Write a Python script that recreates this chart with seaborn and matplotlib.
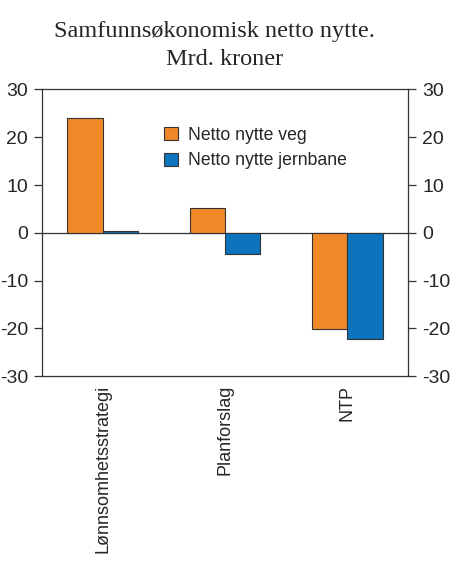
import matplotlib
matplotlib.use("Agg")
import matplotlib.pyplot as plt
import seaborn as sns
import pandas as pd

categories = ["Lønnsomhetsstrategi", "Planforslag", "NTP"]
veg = [24.1, 5.2, -20.1]
jernbane = [0.4, -4.5, -22.3]
series_names = ["Netto nytte veg", "Netto nytte jernbane"]
colors = ["#F0882A", "#0B74BC"]
yticks = [-30, -20, -10, 0, 10, 20, 30]
title_lines = ["Samfunnsøkonomisk netto nytte.", "Mrd. kroner"]

df = pd.DataFrame({
    "kategori": categories * 2,
    "verdi": veg + jernbane,
    "serie": [series_names[0]] * 3 + [series_names[1]] * 3,
})

sns.set_style("white")
plt.rcParams["font.family"] = ["Liberation Sans", "DejaVu Sans"]

fig = plt.figure(figsize=(4.5, 5.7), dpi=100)
ax = fig.add_axes([0.093, 0.340, 0.814, 0.503])

sns.barplot(data=df, x="kategori", y="verdi", hue="serie", palette=colors,
            width=0.58, gap=0, edgecolor="#333333", linewidth=0.8,
            saturation=1, errorbar=None, ax=ax)

ax.set_xlim(-0.5, 2.5)
ax.set_ylim(-30, 30)
ax.set_yticks(yticks)
ax.set_yticklabels([str(t) for t in yticks])
ax.axhline(0, color="#333333", linewidth=0.9, zorder=0.5)
ax.set_xlabel("")
ax.set_ylabel("")
for s in ax.spines.values():
    s.set_color("#333333")
    s.set_linewidth(0.9)
ax.tick_params(axis="y", which="both", direction="out", length=6, width=0.9,
               color="#333333", labelsize=14, left=True, right=True,
               labelleft=True, labelright=True, pad=4)
ax.tick_params(axis="x", length=0, labelsize=13, rotation=90, pad=6)

leg = ax.legend(loc="upper left", bbox_to_anchor=(0.315, 0.895), frameon=False,
                fontsize=12.7, handlelength=0.75, handleheight=0.75,
                handletextpad=0.6, labelspacing=0.5, borderaxespad=0)

fig.text(0.476, 0.935, title_lines[0], ha="center", va="baseline",
         fontsize=17.5, family="Liberation Serif")
fig.text(0.5, 0.886, title_lines[1], ha="center", va="baseline",
         fontsize=17.5, family="Liberation Serif")

fig.savefig("out.png", dpi=100)
